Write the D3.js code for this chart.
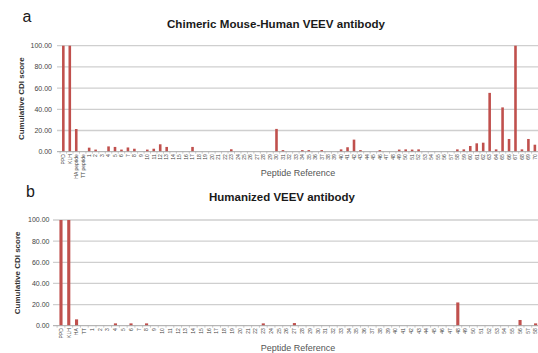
<!DOCTYPE html>
<html><head><meta charset="utf-8">
<script src="https://cdn.jsdelivr.net/npm/d3@7"></script>
<style>
html,body{margin:0;padding:0;background:#fff;}
svg{display:block;font-family:"Liberation Sans",Arial,sans-serif;}
</style></head>
<body>
<svg id="chart" width="538" height="353"></svg>
<script>
// ---------- data ----------
const topCategories = ["PPD","KLH","HA peptide","TT peptide",
 "1","2","3","4","5","6","7","8","9","10","11","12","13","14","15","16","17","18","19","20",
 "21","22","23","24","25","26","27","28","29","30","31","32","33","34","35","36","37","38","39","40",
 "41","42","43","44","45","46","47","48","49","50","51","52","53","54","55","56","57","58","59","60",
 "61","62","63","64","65","66","67","68","69","70"];
const topValues = [100,100,21.4,0,
 3.8,2.0,0,5.0,4.5,2.0,4.0,2.8,0,2.0,2.8,7.0,4.5,0,0,0,4.5,0,0,0,
 0,0,2.3,0,0,0,0,0,0,21.5,1.5,0,0,1.5,1.5,0,1.5,0,0,2.2,
 4.2,11.4,1.5,0,0,1.5,0,0,2.0,2.2,2.0,2.2,0,0,0,0,0,2.2,2.2,5.4,
 7.9,8.5,55.5,2.2,41.8,12,100,2.2,12,6.6];

const bottomCategories = ["PPD","KLH","HA","TT",
 "1","2","3","4","5","6","7","8","9","10","11","12","13","14","15","16","17","18","19","20",
 "21","22","23","24","25","26","27","28","29","30","31","32","33","34","35","36","37","38","39","40",
 "41","42","43","44","45","46","47","48","49","50","51","52","53","54","55","56","57","58"];
const bottomValues = [100,100,6,0,
 0,0,0,2.2,0,2.2,0,2.2,0,0,0,0,0,0,0,0,0,0,0,0,
 0,0,2.2,0,0,0,2.5,0,0,0,0,0,0,0,0,0,0,0,0,0,
 0,0,0,0,0,0,0,22,0,0,0,0,0,0,0,5.4,0,2.2];

const yTicks = [0,20,40,60,80,100];
const titles = ["Chimeric Mouse-Human  VEEV antibody","Humanized VEEV antibody"];
const panelLetters = ["a","b"];
const yTitle = "Cumulative CDI score";
const xTitle = "Peptide Reference";

// ---------- drawing ----------
const svg = d3.select("#chart");
const barColor = "#c0504d";

function panel(cfg){
  const g = svg.append("g");
  const x = d3.scaleBand().domain(cfg.cats).range([cfg.x0, cfg.x1]).paddingInner(0.6).paddingOuter(0.3);
  const y = d3.scaleLinear().domain([0,100]).range([cfg.yBottom, cfg.yTop]);

  // gridlines
  g.selectAll("line.grid").data(yTicks.filter(d=>d>0)).enter().append("line")
    .attr("x1", cfg.gridX0).attr("x2", 538)
    .attr("y1", d=>y(d)).attr("y2", d=>y(d))
    .attr("stroke", "#cfcfcf").attr("stroke-width", 1.3);

  // y tick labels
  g.selectAll("text.yl").data(yTicks).enter().append("text")
    .attr("x", cfg.labelX).attr("y", d=>y(d)+2.4)
    .attr("text-anchor","end").attr("font-size","7px").attr("fill","#444")
    .text(d=>d.toFixed(2));

  // bars
  g.selectAll("rect.bar").data(cfg.cats.map((c,i)=>({c, v: cfg.vals[i]}))).enter().append("rect")
    .attr("x", d=>x(d.c)).attr("width", x.bandwidth())
    .attr("y", d=>y(d.v)).attr("height", d=>y(0)-y(d.v))
    .attr("fill", barColor);

  // x axis line
  g.append("line").attr("x1", cfg.gridX0).attr("x2", 538)
    .attr("y1", y(0)).attr("y2", y(0)).attr("stroke","#a6a6a6").attr("stroke-width",1);
  // tick marks between categories
  g.selectAll("line.xt").data(cfg.cats).enter().append("line")
    .attr("x1", d=>x(d)-x.step()*x.paddingInner()/2).attr("x2", d=>x(d)-x.step()*x.paddingInner()/2)
    .attr("y1", y(0)).attr("y2", y(0)+2).attr("stroke","#a6a6a6").attr("stroke-width",0.6);

  // x labels (rotated)
  g.selectAll("text.xl").data(cfg.cats).enter().append("text")
    .attr("transform", d=>`translate(${x(d)+x.bandwidth()/2+1.8},${y(0)+2.5}) rotate(-90)`)
    .attr("text-anchor","end").attr("font-size","5px").attr("fill","#444")
    .text(d=>d);

  // title
  g.append("text").attr("x", cfg.titleX).attr("y", cfg.titleY)
    .attr("font-size","11.5px").attr("font-weight","bold").attr("fill","#1a1a1a")
    .attr("textLength", cfg.titleLen).attr("lengthAdjust","spacingAndGlyphs")
    .text(cfg.title);

  // panel letter
  g.append("text").attr("x", cfg.letterX).attr("y", cfg.letterY)
    .attr("font-size","16px").attr("fill","#1a1a1a").text(cfg.letter);

  // y title
  g.append("text").attr("transform", `translate(${cfg.yTitleX},${(cfg.yTop+cfg.yBottom)/2}) rotate(-90)`)
    .attr("text-anchor","middle").attr("font-size","8px").attr("font-weight","bold").attr("fill","#333")
    .text(yTitle);

  // x title
  g.append("text").attr("x", cfg.xTitleX).attr("y", cfg.xTitleY)
    .attr("text-anchor","middle").attr("font-size","9px").attr("fill","#555")
    .text(xTitle);
}

panel({cats: topCategories, vals: topValues, x0: 60.1, x1: 538.1, yTop: 45.7, yBottom: 151.7,
  gridX0: 57, labelX: 52, title: titles[0], titleX: 167, titleY: 28, titleLen: 218,
  letter: panelLetters[0], letterX: 22.5, letterY: 21.5, yTitleX: 24, xTitleX: 298, xTitleY: 176});

panel({cats: bottomCategories, vals: bottomValues, x0: 57.1, x1: 539.5, yTop: 220, yBottom: 325.7,
  gridX0: 53, labelX: 49.5, title: titles[1], titleX: 209, titleY: 200.5, titleLen: 146,
  letter: panelLetters[1], letterX: 26, letterY: 197, yTitleX: 20, xTitleX: 298, xTitleY: 351});
</script>
</body></html>
